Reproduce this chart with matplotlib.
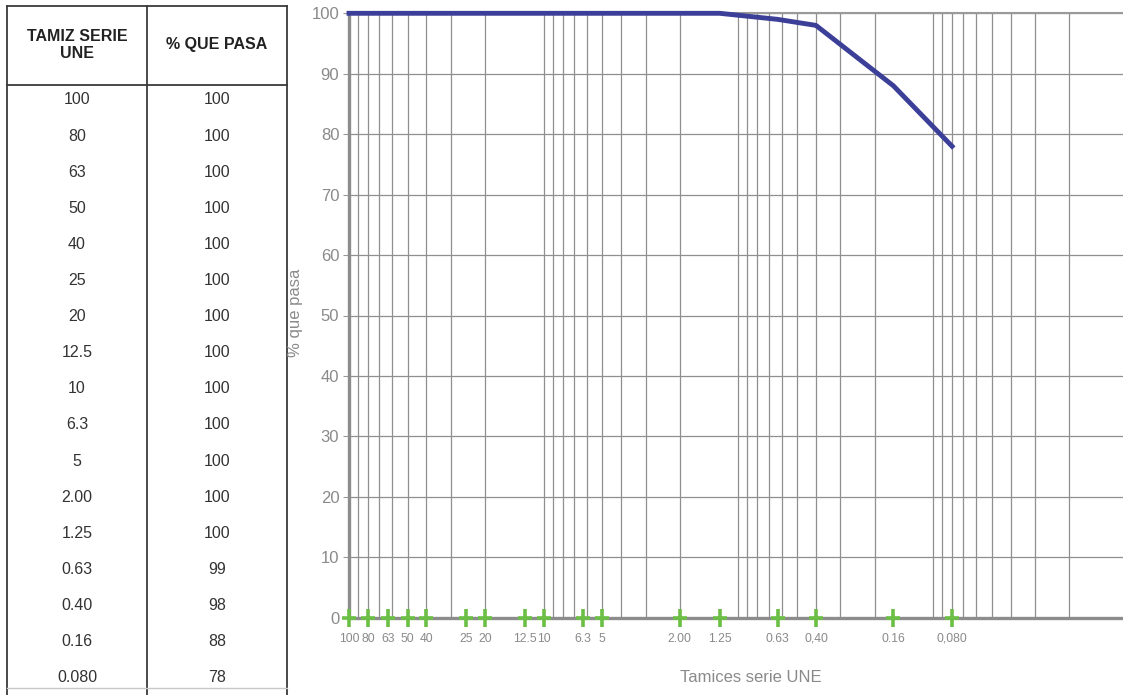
import numpy as np
import matplotlib.pyplot as plt
from matplotlib.ticker import LogLocator, NullFormatter

plt.rcParams['font.family'] = ['Liberation Sans', 'DejaVu Sans']

# datos de la granulometria
tamices = [100, 80, 63, 50, 40, 25, 20, 12.5, 10, 6.3, 5, 2.00, 1.25, 0.63, 0.40, 0.16, 0.080]
tamices_txt = ['100', '80', '63', '50', '40', '25', '20', '12.5', '10', '6.3', '5',
               '2.00', '1.25', '0.63', '0.40', '0.16', '0.080']
eje_txt = ['100', '80', '63', '50', '40', '25', '20', '12.5', '10', '6.3', '5',
           '2.00', '1.25', '0.63', '0,40', '0.16', '0,080']
pasa = [100, 100, 100, 100, 100, 100, 100, 100, 100, 100, 100, 100, 100, 99, 98, 88, 78]

W, H = 1123, 695
fig = plt.figure(figsize=(W/100, H/100), dpi=100)

# ---- tabla (coordenadas en pixeles) ----
tb = fig.add_axes([0, 0, 300/W, 1])
tb.set_xlim(0, 300)
tb.set_ylim(H, 0)
tb.axis('off')
borde = '#3a3a3a'
for x in [7, 147, 287]:
    tb.plot([x, x], [6, H], color=borde, lw=1.3)
tb.plot([7, 287], [6, 6], color=borde, lw=1.3)
tb.plot([7, 287], [85, 85], color=borde, lw=1.3)
tb.plot([7, 287], [688, 688], color='#c8c8c8', lw=1)
tb.text(77, 45, 'TAMIZ SERIE\nUNE', ha='center', va='center', fontsize=11.5,
        fontweight='bold', color='#222222', linespacing=1.15)
tb.text(217, 45, '% QUE PASA', ha='center', va='center', fontsize=11.5,
        fontweight='bold', color='#222222')
for i, (t, p) in enumerate(zip(tamices_txt, pasa)):
    y = 100 + i*36.1
    tb.text(77, y, t, ha='center', va='center', fontsize=11.5, color='#333333')
    tb.text(217, y, str(p), ha='center', va='center', fontsize=11.5, color='#333333')

# ---- grafico ----
ax = fig.add_axes([349/W, 77.3/H, (W-349)/W, 604.4/H])
ax.set_xscale('log')
ax.set_xlim(100, 0.0106)
ax.set_ylim(0, 100)

ax.plot(tamices, pasa, color='#3b3f98', lw=3.5, solid_joinstyle='round',
        clip_on=False, zorder=5)
ax.plot(tamices, [0]*len(tamices), ls='none', marker='|', ms=13, mew=2.6,
        color='#6cbf45', clip_on=False, zorder=6)
ax.plot(tamices, [0]*len(tamices), ls='none', marker='_', ms=10, mew=2.6,
        color='#6cbf45', clip_on=False, zorder=6)

ax.set_xticks(tamices, eje_txt)
ax.xaxis.set_minor_locator(LogLocator(base=10, subs=np.arange(1, 10), numticks=20))
ax.xaxis.set_minor_formatter(NullFormatter())
ax.xaxis.remove_overlapping_locs = False
ax.tick_params(axis='x', which='both', length=0, pad=11, labelsize=8.7, labelcolor='#8a8a8a')
ax.grid(which='minor', axis='x', color='#8f8f8f', lw=0.9)

ax.set_yticks(np.arange(0, 101, 10))
ax.tick_params(axis='y', length=4, color='#9a9a9a', labelsize=12, labelcolor='#8a8a8a', pad=3)
ax.grid(which='major', axis='y', color='#8f8f8f', lw=0.9)
ax.set_axisbelow(True)

for s in ['left', 'bottom']:
    ax.spines[s].set_color('#8c8c8c')
    ax.spines[s].set_linewidth(2.4)
ax.spines['top'].set_color('#9a9a9a')
ax.spines['top'].set_linewidth(1.5)
ax.spines['right'].set_visible(False)

ax.set_xlabel('Tamices serie UNE', fontsize=12, color='#8a8a8a')
ax.xaxis.set_label_coords((751-349)/(W-349), -52/604.4)
ax.set_ylabel('% que pasa', fontsize=12, color='#8a8a8a')
ax.yaxis.set_label_coords(-(349-303)/(W-349), (617.7-313)/604.4)

fig.savefig('out.png', dpi=100)
